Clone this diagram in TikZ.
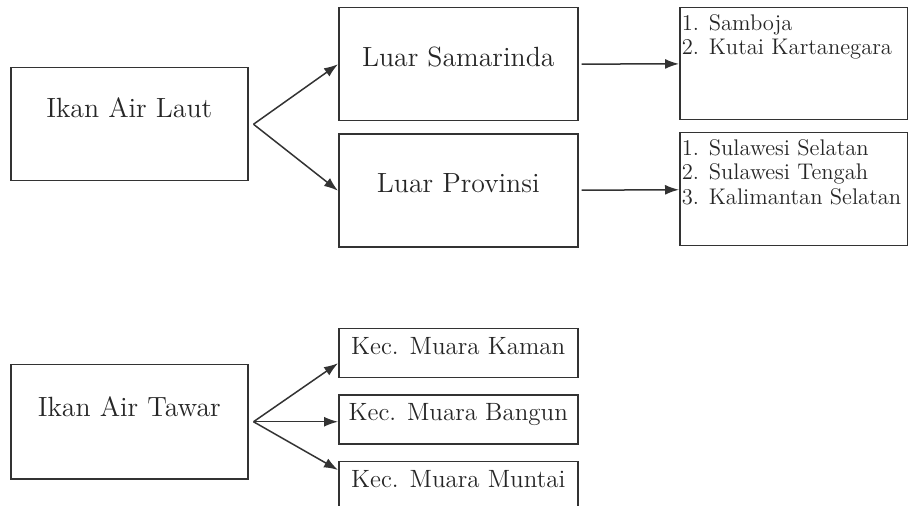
\documentclass[tikz,border=0pt]{standalone}
\usepackage{xcolor}
\usepackage{tikz}
\usetikzlibrary{arrows.meta,positioning,calc}

\definecolor{ink}{HTML}{333333}

\begin{document}
\begin{tikzpicture}[
  x=0.5pt, y=-0.5pt,
  line width=0.75pt,
  box/.style={
    draw=ink,
    text=black!85,
    inner sep=0pt,
    font=\fontsize{13.9}{16}\selectfont
  },
  sidebox/.style={box, minimum width=118.5pt, text height=24.8pt, text depth=31.7pt},
  midbox/.style={box, minimum width=119.5pt, text height=29.3pt, text depth=27.2pt},
  kecbox/.style={box, minimum width=119.5pt, text height=12.8pt, text depth=11.7pt,
    font=\fontsize{12.5}{14}\selectfont},
  listbox/.style={
    draw=ink,
    text=black!85,
    inner xsep=1pt, inner ysep=0pt,
    font=\fontsize{11.3}{12.3}\selectfont
  },
  link/.style={draw=ink, -{Latex[length=7pt,width=5pt]}}
]
\useasboundingbox (0,0) rectangle (908,506);

% ikan air laut
\node[sidebox, anchor=north west] (laut) at (10,67) {Ikan Air Laut};
\node[midbox, anchor=north west] (samarinda) at (338,7) {Luar Samarinda};
\node[midbox, below=6pt of samarinda] (provinsi) {Luar Provinsi};

% daerah tujuan
\node[listbox, anchor=north west] (sambojalist) at (679,7)
  {\parbox[t][56pt][t]{112pt}{\rule{0pt}{11.3pt}1. Samboja\\2. Kutai Kartanegara}};
\node[listbox, anchor=north west] (sulawesilist) at (679,132)
  {\parbox[t][56.5pt][t]{112pt}{\rule{0pt}{11.3pt}1. Sulawesi Selatan\\2. Sulawesi Tengah\\3. Kalimantan Selatan}};

\coordinate (lautfork) at ($(laut.east)+(5,0)$);
\draw[link] (lautfork) -- (samarinda.west);
\draw[link] (lautfork) -- (provinsi.west);
\draw[link, shorten <=1.5pt] (samarinda) -- (sambojalist);
\draw[link, shorten <=1.5pt] (provinsi) -- (sulawesilist);

% ikan air tawar
\node[sidebox, anchor=north west, text height=25.8pt, text depth=31.2pt] (tawar) at (10,364) {Ikan Air Tawar};
\node[kecbox, anchor=north west] (kaman) at (338,328) {Kec. Muara Kaman};
\node[kecbox, below=8pt of kaman] (bangun) {Kec. Muara Bangun};
\node[kecbox, below=8pt of bangun, text depth=20pt] (muntai) {Kec. Muara Muntai};

\coordinate (tawarfork) at ($(tawar.east)+(5,0)$);
\draw[link] (tawarfork) -- ([yshift=-5pt]kaman.west);
\draw[link] (tawarfork) -- (tawarfork -| bangun.west);
\draw[link] (tawarfork) -- ([yshift=12.3pt]muntai.west);

\end{tikzpicture}
\end{document}
